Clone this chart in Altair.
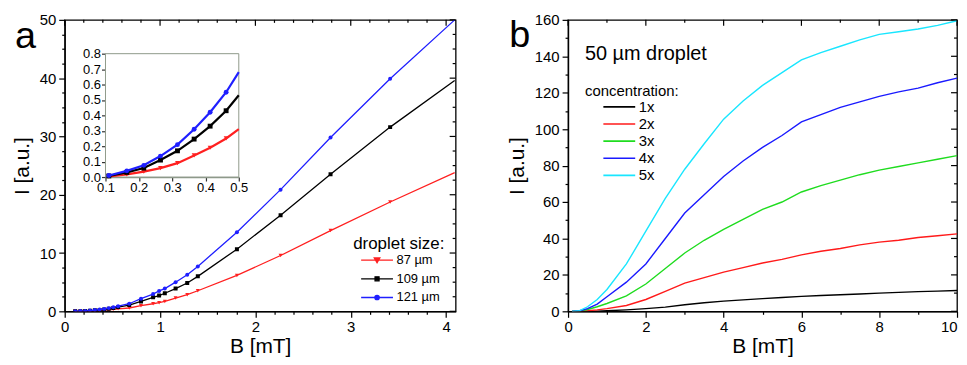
import altair as alt
import pandas as pd

FONT = "Liberation Sans"

# ---------------- panel a : intensity vs field, three droplet sizes ----------------
a_B = [0.11, 0.164, 0.215, 0.265, 0.316, 0.366, 0.414, 0.462, 0.51, 0.56, 0.677, 0.80,
       0.927, 0.99, 1.05, 1.163, 1.285, 1.396, 1.806, 2.264, 2.788, 3.413, 4.09]
a_87 = [0.004, 0.017, 0.035, 0.058, 0.09, 0.14, 0.19, 0.25, 0.33, 0.42, 0.57, 0.97,
        1.3, 1.48, 1.7, 2.28, 2.85, 3.53, 6.16, 9.58, 13.85, 18.76, 23.8]
a_109 = [0.007, 0.03, 0.058, 0.11, 0.17, 0.246, 0.33, 0.43, 0.56, 0.72, 1.08, 1.7,
         2.4, 2.7, 3.1, 3.9, 4.85, 6.0, 10.66, 16.5, 23.5, 31.6, 39.6]
a_121 = [0.01, 0.04, 0.076, 0.136, 0.21, 0.31, 0.42, 0.55, 0.71, 0.88, 1.3, 2.17,
         2.96, 3.5, 3.9, 5.0, 6.27, 7.7, 13.57, 20.87, 29.82, 39.9, 50.0]

inset_B = [0.11, 0.164, 0.215, 0.265, 0.316, 0.366, 0.414, 0.462, 0.5]
inset_87 = [0.004, 0.017, 0.035, 0.058, 0.09, 0.14, 0.19, 0.25, 0.31]
inset_109 = [0.007, 0.03, 0.058, 0.11, 0.17, 0.246, 0.33, 0.43, 0.53]
inset_121 = [0.01, 0.04, 0.076, 0.136, 0.21, 0.31, 0.42, 0.55, 0.68]

a_sizes = ["87 µm", "109 µm", "121 µm"]
a_colors = ["#ff2020", "#000000", "#1f1fff"]
a_shapes = ["triangle-down", "square", "circle"]
a_legend_paths = [
    "M-4,0H4M-0.7,-0.55L0.7,-0.55L0,0.65Z",
    "M-4,0H4M-0.5,-0.5H0.5V0.5H-0.5Z",
    "M-4,0H4M-0.55,0A0.55,0.55,0,1,1,0.55,0A0.55,0.55,0,1,1,-0.55,0Z",
]

a_x_ticks = [0, 0.2, 0.4, 0.6, 0.8, 1, 1.2, 1.4, 1.6, 1.8, 2, 2.2, 2.4, 2.6, 2.8, 3,
             3.2, 3.4, 3.6, 3.8, 4]
a_y_ticks = [0, 2.5, 5, 7.5, 10, 12.5, 15, 17.5, 20, 22.5, 25, 27.5, 30, 32.5, 35,
             37.5, 40, 42.5, 45, 47.5, 50]
inset_x_ticks = [0.1, 0.2, 0.3, 0.4, 0.5]
inset_y_ticks = [0, 0.1, 0.2, 0.3, 0.4, 0.5, 0.6, 0.7, 0.8]

# ---------------- panel b : 50 µm droplet, five concentrations ----------------
b_B = [0.1, 0.3, 0.5, 0.75, 1, 1.5, 2, 2.5, 3, 3.5, 4, 4.5, 5, 5.5, 6, 6.5, 7, 7.5,
       8, 8.5, 9, 9.5, 10]
b_1x = [0, 0, 0, 0.1, 0.3, 0.8, 1.5, 2.3, 3.6, 4.7, 5.6, 6.3, 7, 7.6, 8.2, 8.7, 9.1,
        9.5, 10, 10.4, 10.8, 11.1, 11.4]
b_2x = [0, 0.1, 0.3, 0.8, 1.5, 3.2, 6.5, 11, 15.5, 18.5, 21.5, 24, 26.5, 28.5, 31, 33,
        34.5, 36.5, 38, 39, 40.5, 41.5, 42.5]
b_3x = [0, 0.2, 1, 2.5, 4.3, 8.5, 15, 23.5, 32, 39, 45, 50.5, 56, 60, 65.5, 69, 72,
        75, 77.5, 79.5, 81.5, 83.5, 85.5]
b_4x = [0, 0.3, 1.5, 4, 8, 16, 26, 40, 54, 64, 74, 82.5, 90, 96.5, 104, 108, 112, 115,
        118, 120.5, 122.5, 125.5, 128]
b_5x = [0, 0.4, 2.5, 6.5, 12, 26, 44, 62, 78, 92, 105.5, 115.5, 124, 131, 138, 142,
        145.5, 149, 152, 153.5, 155, 157, 159.5]
b_conc = ["1x", "2x", "3x", "4x", "5x"]
b_colors = ["#000000", "#ff1a1a", "#1fdc1f", "#1a1aff", "#19e6ff"]

b_x_ticks = [0, 1, 2, 3, 4, 5, 6, 7, 8, 9, 10]
b_y_ticks = [0, 10, 20, 30, 40, 50, 60, 70, 80, 90, 100, 110, 120, 130, 140, 150, 160]

# ---------------- layout constants ----------------
W_A, W_B, H = 393, 391, 293
INSET_X = [41, 175]
INSET_Y = [158, 34]
GRAY = "#8f9a8a"
MAJOR, MINOR = 6, 3


def tick_size(test):
    return {"condition": {"test": test, "value": MAJOR}, "value": MINOR}


# ---------------- tables ----------------
df_a = pd.DataFrame({
    "B": a_B * 3,
    "I": a_87 + a_109 + a_121,
    "series": sum([[s] * len(a_B) for s in a_sizes], []),
})
df_in = pd.DataFrame({
    "B": inset_B * 3,
    "I": inset_87 + inset_109 + inset_121,
    "series": sum([[s] * len(inset_B) for s in a_sizes], []),
})
df_frame = pd.DataFrame({"B": [inset_x_ticks[0]], "B2": [inset_x_ticks[-1]],
                         "I": [inset_y_ticks[0]], "I2": [inset_y_ticks[-1]]})
df_leg = pd.DataFrame({"series": a_sizes})
df_b = pd.DataFrame({
    "B": b_B * 5,
    "I": b_1x + b_2x + b_3x + b_4x + b_5x,
    "conc": sum([[c] * len(b_B) for c in b_conc], []),
})
df_one = pd.DataFrame({"k": [0]})


def mirror_ticks(xticks, yticks, x_enc, y_enc, x_major, y_major, width):
    """Inward tick marks along the top and right frame edges, placed through the scales."""
    dx = pd.DataFrame({"B": xticks})
    dy = pd.DataFrame({"I": yticks})
    layers = []
    for test, ln in ((x_major, MAJOR), (f"!({x_major})", MINOR)):
        layers.append(alt.Chart(dx).transform_filter(test).mark_rule(
            color="black", strokeWidth=1.2).encode(
            x=x_enc, y=alt.value(0), y2=alt.value(ln)))
    for test, ln in ((y_major, MAJOR), (f"!({y_major})", MINOR)):
        layers.append(alt.Chart(dy).transform_filter(test).mark_rule(
            color="black", strokeWidth=1.2).encode(
            y=y_enc, x=alt.value(width), x2=alt.value(width - ln)))
    return layers


# ---------------- panel a encodings ----------------
x_a = alt.X("B:Q", scale=alt.Scale(domain=[0, 4.1], nice=False, zero=False),
            axis=alt.Axis(orient="bottom", values=a_x_ticks, title="B [mT]",
                          tickSize=tick_size("datum.value % 1 === 0"),
                          labelExpr="datum.value % 1 === 0 ? format(datum.value, 'd') : ''",
                          labelOverlap=False, labelFlush=False, labelPadding=2,
                          titlePadding=1))
y_a = alt.Y("I:Q", scale=alt.Scale(domain=[0, 50], nice=False),
            axis=alt.Axis(orient="left", values=a_y_ticks, title="I [a.u.]",
                          tickSize=tick_size("datum.value % 10 === 0"),
                          labelExpr="datum.value % 10 === 0 ? format(datum.value, 'd') : ''",
                          labelOverlap=False, titlePadding=7))

main_layers = []
for s, c, m in zip(a_sizes, a_colors, a_shapes):
    base = alt.Chart(df_a).transform_filter(alt.datum.series == s)
    main_layers.append(base.mark_line(color=c, strokeWidth=1.3, clip=True)
                       .encode(x=x_a, y=y_a))
    main_layers.append(base.transform_filter("datum.B < 4")
                       .mark_point(shape=m, filled=True, color=c, size=16, opacity=1, clip=True)
                       .encode(x=x_a, y=y_a))
main_layers += mirror_ticks(a_x_ticks, a_y_ticks, x_a, y_a,
                            "datum.B % 1 === 0", "datum.I % 10 === 0", W_A)

leg_a = alt.Legend(orient="none", legendX=290, legendY=217, direction="vertical",
                   title="droplet size:", titleFontSize=17, labelFontSize=13,
                   labelFontWeight="normal",
                   symbolSize=64, symbolStrokeWidth=1.3, symbolOffset=17.5,
                   labelOffset=13, rowPadding=4.8, titlePadding=1, padding=0)
legend_layer = alt.Chart(df_leg).transform_filter("false").mark_point(
    filled=True, opacity=1).encode(
    fill=alt.Fill("series:N", scale=alt.Scale(domain=a_sizes, range=a_colors), legend=leg_a),
    stroke=alt.Stroke("series:N", scale=alt.Scale(domain=a_sizes, range=a_colors), legend=leg_a),
    shape=alt.Shape("series:N", scale=alt.Scale(domain=a_sizes, range=a_legend_paths), legend=leg_a),
)
letter_a = alt.Chart(df_one).mark_text(
    text="a", fontSize=38, align="left", baseline="alphabetic", color="black"
).encode(x=alt.value(-50), y=alt.value(28))

main_a = alt.layer(*main_layers, legend_layer, letter_a)

# inset
x_in = alt.X("B:Q", scale=alt.Scale(domain=[0.1, 0.5], range=INSET_X, nice=False, zero=False),
             axis=alt.Axis(orient="bottom", offset=-(H - INSET_Y[0]), values=inset_x_ticks,
                           format=".1f", title=None, labelFontSize=13, tickSize=4,
                           labelPadding=1, domainColor=GRAY, tickColor="#333333",
                           labelOverlap=False, labelFlush=False))
y_in = alt.Y("I:Q", scale=alt.Scale(domain=[0, 0.8], range=INSET_Y, nice=False),
             axis=alt.Axis(orient="left", offset=-INSET_X[0], values=inset_y_ticks,
                           format=".1f", title=None, labelFontSize=13, tickSize=4,
                           labelPadding=1, domainColor=GRAY, tickColor="#333333",
                           labelOverlap=False))
inset_layers = [alt.Chart(df_frame).mark_rect(fill="white", stroke=GRAY, strokeWidth=1).encode(
    x=x_in, x2="B2:Q", y=y_in, y2="I2:Q")]
for s, c, m in zip(a_sizes, a_colors, a_shapes):
    base = alt.Chart(df_in).transform_filter(alt.datum.series == s)
    inset_layers.append(base.mark_line(color=c, strokeWidth=2.2).encode(x=x_in, y=y_in))
    inset_layers.append(base.transform_filter("datum.B < 0.49")
                        .mark_point(shape=m, filled=True, color=c, size=24, opacity=1)
                        .encode(x=x_in, y=y_in))
inset = alt.layer(*inset_layers)

panel_a = alt.layer(main_a, inset).resolve_scale(
    x="independent", y="independent").properties(width=W_A, height=H)

# ---------------- panel b ----------------
x_b = alt.X("B:Q", scale=alt.Scale(domain=[0, 10], nice=False),
            axis=alt.Axis(orient="bottom", values=b_x_ticks, title="B [mT]",
                          tickSize=tick_size("datum.value % 2 === 0"),
                          labelExpr="datum.value % 2 === 0 ? format(datum.value, 'd') : ''",
                          labelAlign={"condition": {"test": "datum.value === 10", "value": "right"},
                                      "value": "center"},
                          labelOverlap=False, labelFlush=False, labelPadding=2,
                          titlePadding=1))
y_b = alt.Y("I:Q", scale=alt.Scale(domain=[0, 160], nice=False),
            axis=alt.Axis(orient="left", values=b_y_ticks, title="I [a.u.]",
                          tickSize=tick_size("datum.value % 20 === 0"),
                          labelExpr="datum.value % 20 === 0 ? format(datum.value, 'd') : ''",
                          labelOverlap=False, titlePadding=7))
leg_b = alt.Legend(orient="none", legendX=17, legendY=65, direction="vertical",
                   title="concentration:", titleFontSize=15, labelFontSize=15,
                   symbolType="M-4,0H4", symbolSize=64, symbolStrokeWidth=1.6,
                   symbolOffset=27, labelOffset=12, rowPadding=1.2, titlePadding=0,
                   padding=0)
lines_b = alt.Chart(df_b).mark_line(strokeWidth=1.4, clip=True).encode(
    x=x_b, y=y_b,
    stroke=alt.Stroke("conc:N", scale=alt.Scale(domain=b_conc, range=b_colors), legend=leg_b),
)
letter_b = alt.Chart(df_one).mark_text(
    text="b", fontSize=38, align="left", baseline="alphabetic", color="black"
).encode(x=alt.value(-59), y=alt.value(27))
note_b = alt.Chart(df_one).mark_text(
    text="50 µm droplet", fontSize=20, align="left", baseline="alphabetic", color="black"
).encode(x=alt.value(17), y=alt.value(40))
ticks_b = mirror_ticks(b_x_ticks, b_y_ticks, x_b, y_b,
                       "datum.B % 2 === 0", "datum.I % 20 === 0", W_B)
panel_b = alt.layer(lines_b, *ticks_b, letter_b, note_b).properties(width=W_B, height=H)

chart = alt.hconcat(panel_a, panel_b, spacing=48).resolve_scale(
    stroke="independent", fill="independent", shape="independent"
).resolve_legend(
    stroke="independent", fill="independent", shape="independent"
).properties(
    padding={"left": 2, "top": 3, "right": 0, "bottom": 0}
).configure(font=FONT).configure_axis(
    labelFont=FONT, titleFont=FONT, labelFontSize=15, titleFontSize=21,
    titleFontWeight="normal", labelColor="black", titleColor="black",
    domainColor="black", tickColor="black", domainWidth=1.3, tickWidth=1.2,
    grid=False, labelPadding=3,
).configure_legend(
    labelFont=FONT, titleFont=FONT, titleFontWeight="normal",
    titleColor="black", labelColor="black",
).configure_view(stroke="black", strokeWidth=1.3).configure_text(font=FONT)

chart.save("out.html", embed_options={"renderer": "svg", "actions": False})
